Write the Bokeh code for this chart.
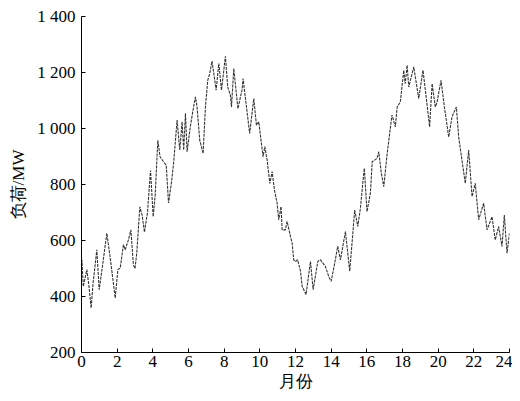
from bokeh.plotting import figure
from bokeh.models import FixedTicker, Range1d
from bokeh.embed import file_html
from bokeh.resources import INLINE

months = [0.00, 0.02, 0.10, 0.30, 0.42, 0.54, 0.65, 0.86, 0.99, 1.15, 1.42, 1.60, 1.89, 2.04, 2.17,
          2.35, 2.45, 2.63, 2.77, 2.91, 3.00, 3.10, 3.27, 3.40, 3.53, 3.70, 3.87, 4.02, 4.13, 4.28,
          4.40, 4.61, 4.75, 4.88, 5.05, 5.17, 5.36, 5.51, 5.64, 5.73, 5.83, 5.92, 6.10, 6.30, 6.39,
          6.48, 6.63, 6.82, 6.95, 7.08, 7.19, 7.32, 7.55, 7.70, 7.85, 8.07, 8.20, 8.35, 8.41, 8.54,
          8.77, 9.00, 9.06, 9.43, 9.66, 9.81, 9.94, 10.18, 10.28, 10.41, 10.56, 10.69, 10.82, 10.97,
          11.06, 11.19, 11.25, 11.43, 11.53, 11.72, 11.81, 11.90, 11.99, 12.12, 12.28, 12.37, 12.59,
          12.84, 12.99, 13.25, 13.40, 13.68, 13.86, 14.00, 14.18, 14.37, 14.52, 14.80, 14.89, 15.04,
          15.17, 15.32, 15.49, 15.64, 15.79, 15.86, 16.01, 16.20, 16.30, 16.57, 16.67, 16.80, 16.95,
          17.13, 17.41, 17.60, 17.70, 17.88, 18.07, 18.15, 18.26, 18.35, 18.63, 18.91, 19.15, 19.38,
          19.52, 19.66, 19.84, 19.94, 20.16, 20.35, 20.59, 20.78, 21.02, 21.15, 21.28, 21.52, 21.71,
          21.90, 22.08, 22.27, 22.55, 22.74, 23.02, 23.20, 23.39, 23.58, 23.71, 23.86, 24.00]
load_mw = [500, 531, 436, 496, 436, 359, 448, 567, 424, 496, 626, 543, 395, 496, 501,
           585, 567, 602, 638, 513, 500, 555, 720, 690, 630, 700, 850, 685, 760, 958,
           900, 880, 870, 734, 810, 880, 1030, 923, 1024, 923, 1054, 917, 1006, 1083, 1113,
           1077, 958, 911, 1077, 1172, 1196, 1241, 1137, 1232, 1137, 1258, 1148, 1119, 1077, 1214,
           1071, 1137, 1178, 982, 1107, 1012, 1024, 899, 935, 887, 804, 846, 780, 733,
           674, 721, 638, 638, 668, 614, 591, 531, 525, 531, 490, 437, 407,
           525, 424, 525, 531, 507, 472, 454, 513, 579, 531, 632, 579, 490,
           591, 709, 650, 715, 816, 858, 703, 769, 881, 893, 917, 846, 792,
           905, 1048, 1006, 1077, 1095, 1208, 1160, 1226, 1148, 1220, 1107, 1208, 1083,
           1006, 1160, 1077, 1095, 1172, 1077, 970, 1042, 1077, 970, 911, 804, 923,
           757, 804, 674, 733, 638, 685, 602, 650, 579, 691, 555, 626]

x_ticks = list(range(0, 25, 2))
y_ticks = [200, 400, 600, 800, 1000, 1200, 1400]
y_tick_labels = {200: "200", 400: "400", 600: "600", 800: "800",
                 1000: "1 000", 1200: "1 200", 1400: "1 400"}

p = figure(width=512, height=393, output_backend="svg", toolbar_location=None,
           x_range=Range1d(0, 24), y_range=Range1d(200, 1400),
           min_border_left=81, min_border_right=3, min_border_top=16, min_border_bottom=40)
p.outline_line_color = None
p.xgrid.visible = False
p.ygrid.visible = False
p.background_fill_color = "white"

p.line(months, load_mw, line_color="#333333", line_width=1.1, line_dash="3 1")

for ax in (p.xaxis[0], p.yaxis[0]):
    ax.axis_line_color = "black"
    ax.axis_line_width = 1
    ax.major_tick_in = 4
    ax.major_tick_out = 0
    ax.minor_tick_in = 0
    ax.minor_tick_out = 0
    ax.major_tick_line_color = "black"
    ax.major_label_text_font = "Liberation Serif"
    ax.major_label_text_font_size = "17px"
    ax.major_label_text_color = "black"
    ax.axis_label_text_font = "Liberation Serif"
    ax.axis_label_text_font_size = "17px"
    ax.axis_label_text_font_style = "normal"
    ax.axis_label_text_color = "black"

p.xaxis[0].ticker = FixedTicker(ticks=x_ticks)
p.yaxis[0].ticker = FixedTicker(ticks=y_ticks)
p.yaxis[0].major_label_overrides = y_tick_labels
p.xaxis[0].major_label_standoff = 3
p.yaxis[0].major_label_standoff = 6
p.xaxis[0].axis_label = "月份"
p.yaxis[0].axis_label = "负荷/MW"
p.xaxis[0].axis_label_standoff = 2
p.yaxis[0].axis_label_standoff = 6

open("out.html", "w").write(file_html(p, INLINE))
